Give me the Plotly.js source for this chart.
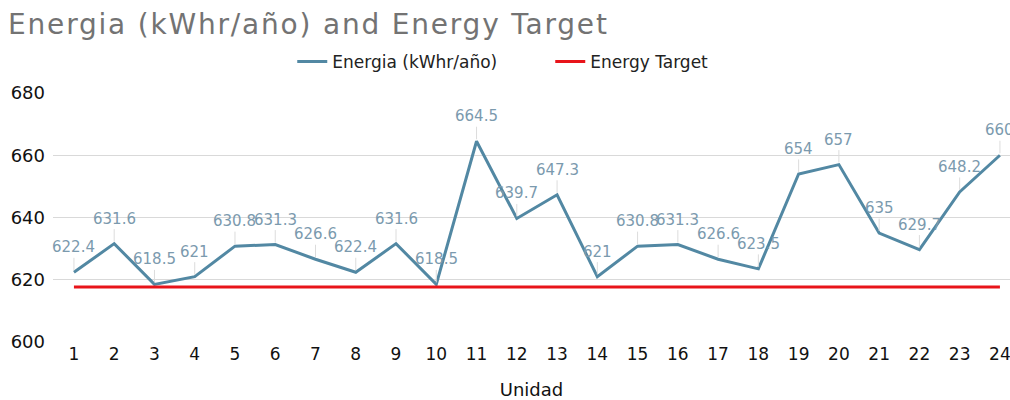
<!DOCTYPE html>
<html><head><meta charset="utf-8">
<script src="https://cdn.plot.ly/plotly-3.0.1.min.js"></script>
<style>html,body{margin:0;padding:0;background:#fff}#chart{width:1010px;height:400px}
#chart .gtitle{letter-spacing:1.8px}</style>
</head><body><div id="chart"></div>
<script>
const units = [1,2,3,4,5,6,7,8,9,10,11,12,13,14,15,16,17,18,19,20,21,22,23,24];
const energia = [622.4,631.6,618.5,621,630.8,631.3,626.6,622.4,631.6,618.5,664.5,639.7,647.3,621,630.8,631.3,626.6,623.5,654,657,635,629.7,648.2,660];
const target = [617.7,617.7,617.7,617.7,617.7,617.7,617.7,617.7,617.7,617.7,617.7,617.7,617.7,617.7,617.7,617.7,617.7,617.7,617.7,617.7,617.7,617.7,617.7,617.7];
const yTicks = [600,620,640,660,680];

const FONT = 'DejaVu Sans, Arial, sans-serif';
const labelAnn = units.map((u,i)=>({
  x:u, y:energia[i], xref:'x', yref:'y', text:String(energia[i]),
  showarrow:true, arrowhead:0, arrowwidth:1, arrowcolor:'#dcdcdc',
  ax:0, ay:-25, standoff:2,
  font:{family:FONT, size:15, color:'#7b9aae'}
}));

const data = [
  {x:units, y:energia, type:'scatter', mode:'lines', name:'Energia (kWhr/año)',
   line:{color:'#5288a3', width:3}},
  {x:units, y:target, type:'scatter', mode:'lines', name:'Energy Target',
   line:{color:'#e8141a', width:3}}
];
const layout = {
  width:1010, height:400,
  margin:{l:53, r:0, t:93, b:58},
  paper_bgcolor:'#fff', plot_bgcolor:'#fff',
  font:{family:FONT, color:'#222'},
  title:{text:'Energia (kWhr/año) and Energy Target', x:0.008, xanchor:'left', xref:'container', y:0.94, yanchor:'middle',
         font:{family:FONT, size:28, color:'#737373'}},
  showlegend:true,
  legend:{orientation:'h', x:0.25, xanchor:'left', y:1.125, yanchor:'middle',
          font:{family:FONT, size:17, color:'#222'}, itemwidth:30, entrywidth:213},
  xaxis:{range:[0.48,24.25], tickmode:'array', tickvals:units, ticktext:units.map(String),
         showgrid:false, zeroline:false, showline:false, ticks:'', ticklabeloverflow:'allow',
         tickfont:{family:FONT, size:17, color:'#111'},
         title:{text:'Unidad', font:{family:FONT, size:18, color:'#111'}, standoff:30}},
  yaxis:{range:[600,680], tickmode:'array', tickvals:yTicks, ticktext:yTicks.map(String),
         showgrid:true, gridcolor:'#d9d9d9', gridwidth:1, zeroline:false, showline:false, ticks:'',
         ticklabelstandoff:7,
         tickfont:{family:FONT, size:18, color:'#111'}},
  annotations:labelAnn
};
Plotly.newPlot('chart', data, layout, {displayModeBar:false, staticPlot:true});
</script></body></html>
